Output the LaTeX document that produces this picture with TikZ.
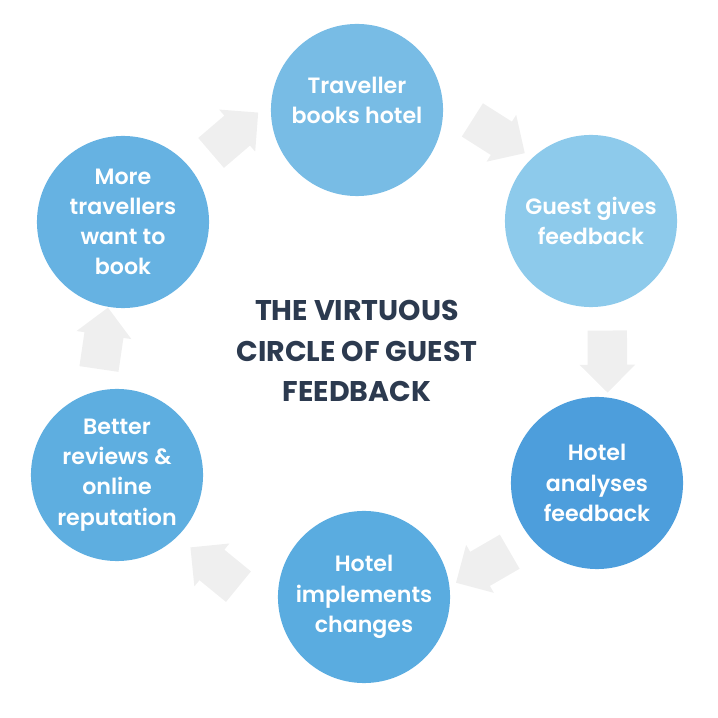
\documentclass[tikz,border=0pt]{standalone}
\usepackage{fontspec}
\setmainfont{Poppins}
\newfontfamily\stagefont{Poppins SemiBold}
\usepackage{xcolor}
\usepackage{tikz}
\definecolor{stepone}{HTML}{78BCE5}
\definecolor{steptwo}{HTML}{8DCAEB}
\definecolor{stepthree}{HTML}{4D9EDC}
\definecolor{stepfour}{HTML}{5AACE0}
\definecolor{stepfive}{HTML}{5EAEE0}
\definecolor{stepsix}{HTML}{66B2E2}
\definecolor{flowgray}{HTML}{EFEFEF}
\definecolor{titlenavy}{HTML}{2C3A4F}
\usetikzlibrary{shapes,arrows,positioning,calc}

\begin{document}
\begin{tikzpicture}[
    x=0.01cm, y=0.01cm,
    stage/.style={circle, minimum size=1.72cm, inner sep=0pt, text=white, align=center,
        font=\fontsize{6.3}{8.6}\selectfont\stagefont},
    flow/.style={single arrow, fill=flowgray, draw=none, inner xsep=0pt, inner ysep=0.19cm,
        minimum height=0.62cm, minimum width=0.55cm, single arrow head extend=0.08cm},
    heading/.style={align=center, text=titlenavy, font=\fontsize{8.1}{11.4}\selectfont\bfseries}
]
\useasboundingbox (0,0) rectangle (718,718);

% Stages
\node[stage, fill=stepone, text depth=5.7pt] (book) at (357,608) {Traveller\\books hotel};
\node[stage, fill=steptwo] (give) at (591,497) {Guest gives\\feedback};
\node[stage, fill=stepthree] (analyse) at (597,235) {Hotel\\analyses\\feedback};
\node[stage, fill=stepfour] (implement) at (364,121) {Hotel\\implements\\changes};
\node[stage, fill=stepfive] (reviews) at (117,243) {Better\\reviews \&\\online\\reputation};
\node[stage, fill=stepsix] (more) at (123,496) {More\\travellers\\want to\\book};

% Title
\node[heading] (title) at (357,367) {THE VIRTUOUS\\CIRCLE OF GUEST\\FEEDBACK};

% Flow arrows
\foreach \from/\to/\bend/\tweak in {more/book/23/15, book/give/30/-7, give/analyse/10/-1,
    analyse/implement/19/4, implement/reviews/31/-13, reviews/more/14/-7}
    \path (\from.center) to[bend left=\bend] node[flow, sloped, allow upside down, rotate=\tweak] {} (\to.center);

\end{tikzpicture}
\end{document}
